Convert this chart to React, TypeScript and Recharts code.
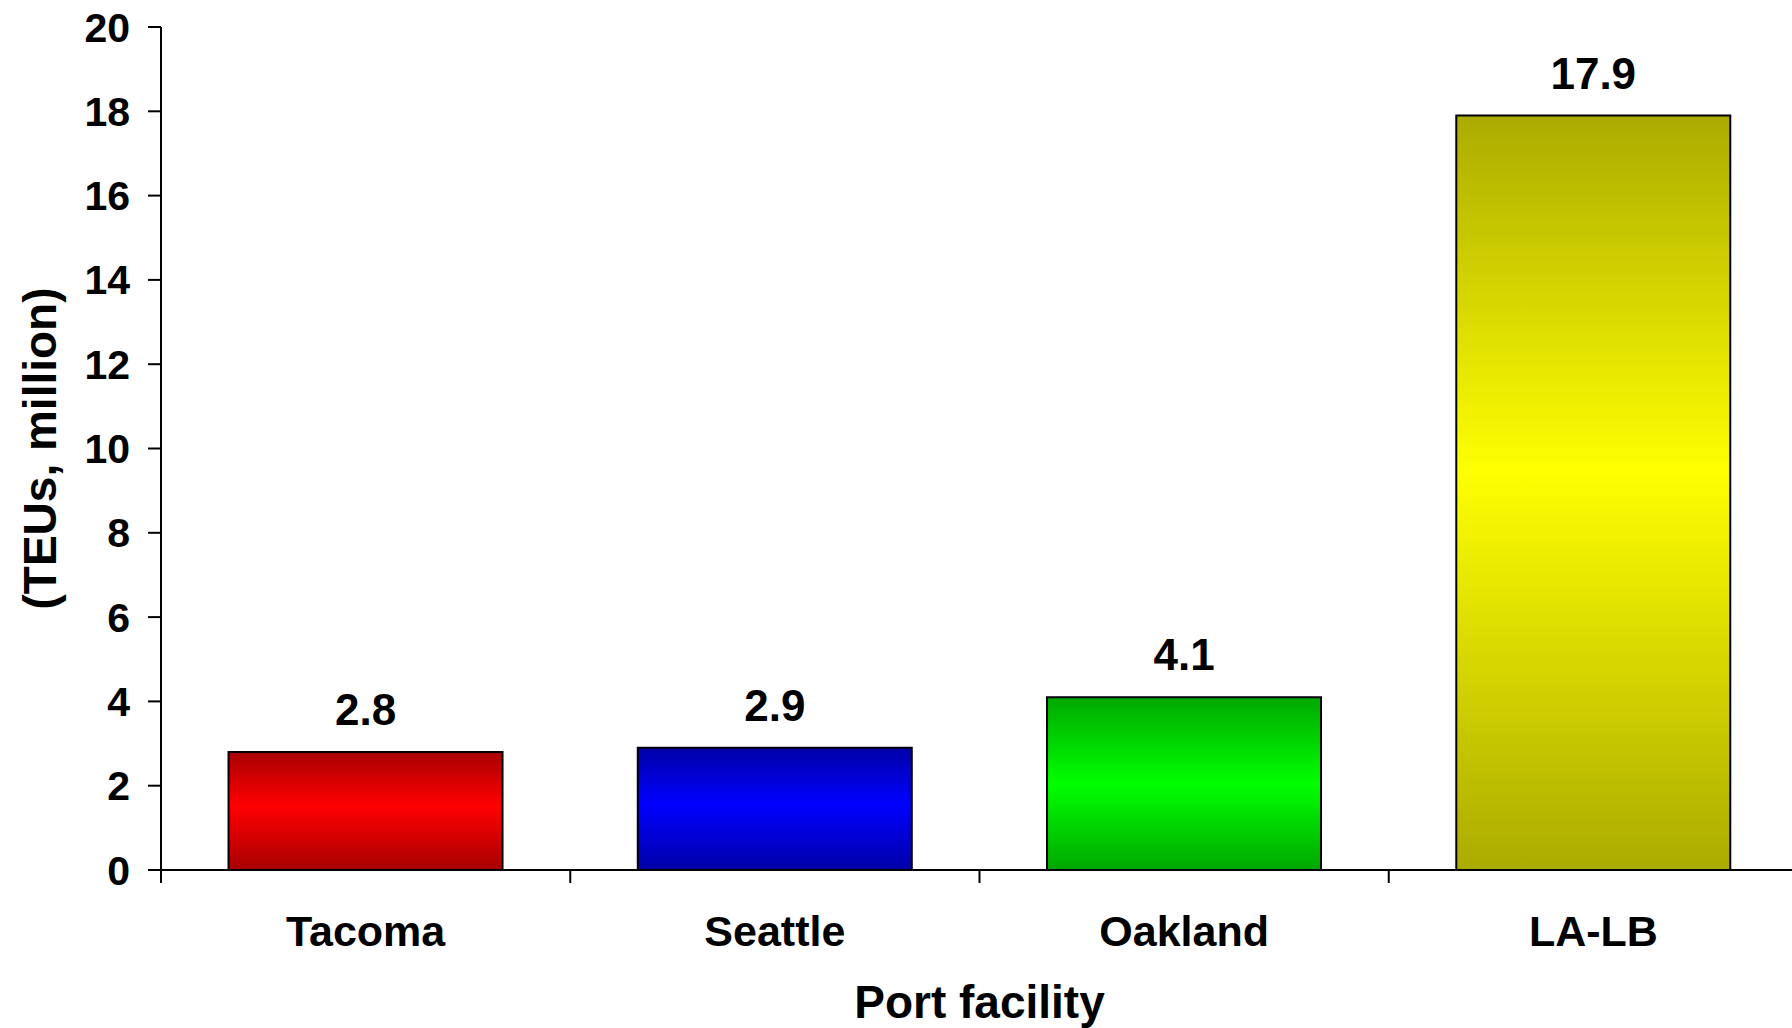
import { BarChart, Bar, XAxis, YAxis, Cell, LabelList, Label } from "recharts";

// Container throughput by port, million TEUs
const ports = ["Tacoma", "Seattle", "Oakland", "LA-LB"];
const teus = [2.8, 2.9, 4.1, 17.9];
const yTicks = [0, 2, 4, 6, 8, 10, 12, 14, 16, 18, 20];

// bar shading: dark edge colour, bright centre colour, where the bright band sits
const shades = [
  { id: "shadeTacoma", dark: "#a80000", light: "#ff0000", peak: "46%" },
  { id: "shadeSeattle", dark: "#0000a8", light: "#0000ff", peak: "46%" },
  { id: "shadeOakland", dark: "#00a800", light: "#00ff00", peak: "50%" },
  { id: "shadeLALB", dark: "#abab00", light: "#ffff00", peak: "47%" },
];

const data = ports.map((port, i) => ({ port, teus: teus[i] }));

const FONT = "'Liberation Sans', Arial, Helvetica, sans-serif";
const TICK_LEN = 13;

function PortTick(props: any) {
  const { x, y, payload, index, visibleTicksCount } = props;
  const half = payload?.offset ?? 0;
  const axisY = y - TICK_LEN;
  const last = index === visibleTicksCount - 1;
  return (
    <g>
      <line x1={x - half} x2={x - half} y1={axisY} y2={axisY + TICK_LEN} stroke="#000" strokeWidth={2} />
      {last && (
        <line x1={x + half} x2={x + half} y1={axisY} y2={axisY + TICK_LEN} stroke="#000" strokeWidth={2} />
      )}
      <text
        x={x}
        y={axisY + 76}
        textAnchor="middle"
        fontFamily={FONT}
        fontWeight="bold"
        fontSize={43}
        fill="#000"
      >
        {payload.value}
      </text>
    </g>
  );
}

export default function App() {
  return (
    <div style={{ width: 1792, height: 1028, overflow: "hidden", background: "#fff" }}>
      <style>{"body{margin:0}"}</style>
      <BarChart
        width={1800}
        height={1028}
        data={data}
        margin={{ top: 27, right: 2, bottom: 0, left: 0 }}
        barCategoryGap="16.5%"
      >
        <defs>
          {shades.map((s) => (
            <linearGradient key={s.id} id={s.id} x1="0" y1="0" x2="0" y2="1">
              <stop offset="0%" stopColor={s.dark} />
              <stop offset={s.peak} stopColor={s.light} />
              <stop offset="100%" stopColor={s.dark} />
            </linearGradient>
          ))}
        </defs>
        <XAxis
          dataKey="port"
          height={158}
          axisLine={{ stroke: "#000", strokeWidth: 2 }}
          tickLine={false}
          tickSize={TICK_LEN}
          tickMargin={0}
          interval={0}
          tick={<PortTick />}
        >
          <Label
            content={({ viewBox }: any) => (
              <text
                x={viewBox.x + viewBox.width / 2}
                y={viewBox.y + 148}
                textAnchor="middle"
                fontFamily={FONT}
                fontWeight="bold"
                fontSize={46}
                fill="#000"
              >
                Port facility
              </text>
            )}
          />
        </XAxis>
        <YAxis
          width={161}
          domain={[0, 20]}
          ticks={yTicks}
          interval={0}
          axisLine={{ stroke: "#000", strokeWidth: 2 }}
          tickLine={{ stroke: "#000", strokeWidth: 2 }}
          tickSize={TICK_LEN}
          tickMargin={18}
          tick={{ fontFamily: FONT, fontWeight: "bold", fontSize: 41, fill: "#000" }}
        >
          <Label
            content={({ viewBox }: any) => {
              const cx = viewBox.x + 40;
              const cy = viewBox.y + viewBox.height / 2;
              return (
                <text
                  x={cx}
                  y={cy}
                  transform={`rotate(-90 ${cx} ${cy})`}
                  textAnchor="middle"
                  dominantBaseline="central"
                  fontFamily={FONT}
                  fontWeight="bold"
                  fontSize={46}
                  fill="#000"
                >
                  (TEUs, million)
                </text>
              );
            }}
          />
        </YAxis>
        <Bar dataKey="teus" stroke="#000" strokeWidth={2} isAnimationActive={false}>
          {data.map((d, i) => (
            <Cell key={d.port} fill={`url(#${shades[i].id})`} />
          ))}
          <LabelList
            dataKey="teus"
            position="top"
            offset={27}
            style={{ fontFamily: FONT, fontWeight: "bold", fontSize: 44, fill: "#000" }}
          />
        </Bar>
      </BarChart>
    </div>
  );
}
